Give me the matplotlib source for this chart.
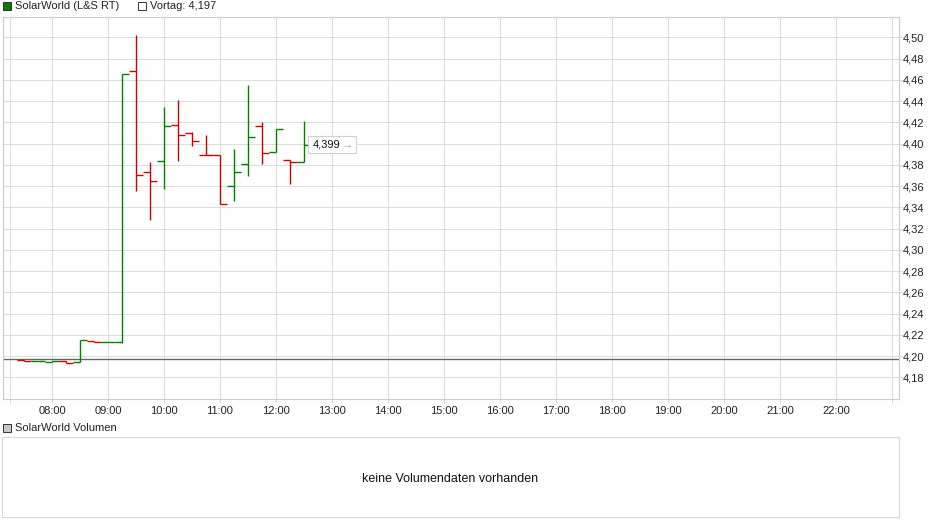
import matplotlib
matplotlib.use('Agg')
import matplotlib.pyplot as plt
from matplotlib.patches import Rectangle
from matplotlib.transforms import IdentityTransform

plt.rcParams['font.family'] = ['Liberation Sans', 'DejaVu Sans']

# 15-minute bars, SolarWorld (L&S RT)
times = ["07:30", "07:45", "08:00", "08:15", "08:30", "08:45", "09:00",
         "09:15", "09:30", "09:45", "10:00", "10:15", "10:30", "10:45",
         "11:00", "11:15", "11:30", "11:45", "12:00", "12:15", "12:30"]
opens = [4.196, 4.195, 4.1945, 4.1955, 4.1946, 4.2143, 4.2133,
         4.2135, 4.468, 4.3734, 4.3835, 4.4173, 4.4098, 4.3893,
         4.3889, 4.360, 4.3806, 4.4164, 4.3919, 4.3844, 4.3825]
highs = [4.196, 4.195, 4.1955, 4.1955, 4.2155, 4.2143, 4.2135,
         4.4652, 4.5022, 4.3831, 4.4345, 4.4408, 4.4107, 4.4082,
         4.3889, 4.395, 4.4551, 4.4204, 4.4138, 4.3844, 4.4213]
lows = [4.195, 4.195, 4.1945, 4.1935, 4.1940, 4.2133, 4.2133,
        4.2124, 4.3549, 4.3276, 4.3577, 4.384, 4.3981, 4.3889,
        4.343, 4.3455, 4.3699, 4.3803, 4.3919, 4.3624, 4.3825]
closes = [4.195, 4.195, 4.1955, 4.1935, 4.2155, 4.2133, 4.2135,
          4.4652, 4.3703, 4.365, 4.4164, 4.4079, 4.4023, 4.3889,
          4.343, 4.3731, 4.406, 4.391, 4.4138, 4.3825, 4.399]
prev_close = 4.197

hour_labels = ["08:00", "09:00", "10:00", "11:00", "12:00", "13:00", "14:00", "15:00",
               "16:00", "17:00", "18:00", "19:00", "20:00", "21:00", "22:00"]
price_ticks = [4.18, 4.20, 4.22, 4.24, 4.26, 4.28, 4.30, 4.32, 4.34,
               4.36, 4.38, 4.40, 4.42, 4.44, 4.46, 4.48, 4.50]


def to_h(s):
    h, m = s.split(":")
    return int(h) + int(m) / 60


def de(v, n):
    return f"{v:.{n}f}".replace(".", ",")


W, H = 940, 526
fig = plt.figure(figsize=(W / 100, H / 100), dpi=100)


def box(x0, y0, x1, y1):
    return [x0 / W, 1 - y1 / H, (x1 - x0) / W, (y1 - y0) / H]


grid_c = '#dddddd'
green = '#008000'
red = '#cc0000'

ax = fig.add_axes(box(3, 17, 899, 399))
ax.set_xlim(7.125, 23.125)
ax.set_ylim(4.1596, 4.5191)

hours = [to_h(s) for s in hour_labels]
ax.set_xticks([7.25] + hours + [23.0])
ax.set_xticklabels([""] + hour_labels + [""])
ax.set_yticks(price_ticks)
ax.set_yticklabels([de(p, 2) for p in price_ticks])
ax.yaxis.tick_right()
ax.grid(True, color=grid_c, lw=0.8)
ax.set_axisbelow(True)
ax.tick_params(axis='both', length=3, color=grid_c, labelsize=8, labelcolor='#222222')
ax.tick_params(axis='x', pad=2)
ax.tick_params(axis='y', pad=0)
for sp in ax.spines.values():
    sp.set_color('#cccccc')
    sp.set_linewidth(0.8)

ax.axhline(prev_close, color='#666666', lw=1.0, zorder=2)

half = 0.125
for t, o, hi, lo, c in zip(times, opens, highs, lows, closes):
    x = to_h(t)
    col = green if c >= o else red
    ax.vlines(x, lo, hi, color=col, lw=1.0, zorder=3)
    ax.hlines(o, x - half, x, color=col, lw=1.0, zorder=3)
    ax.hlines(c, x, x + half, color=col, lw=1.0, zorder=3)

# last price tag
last_x = to_h(times[-1])
px, py = ax.transData.transform((last_x, closes[-1]))
ax.add_artist(Rectangle((px + 3.5, py - 8.5), 48, 17, transform=IdentityTransform(),
                        fc='white', ec='#d0d0d0', lw=0.8, zorder=5))
ax.annotate(de(closes[-1], 3), xy=(last_x, closes[-1]), xytext=(9, 0),
            textcoords='offset pixels', ha='left', va='center', fontsize=8,
            color='#111111', zorder=6)
ax.annotate("\u2192", xy=(last_x, closes[-1]), xytext=(38, 0),
            textcoords='offset pixels', ha='left', va='center', fontsize=8,
            color='#aaaaaa', fontweight='bold', zorder=6)

# legend row
fig.add_artist(Rectangle((3 / W, 1 - 10 / H), 8 / W, 8 / H, transform=fig.transFigure,
                         fc=green, ec='#333333', lw=0.7))
fig.text(15 / W, 1 - 6 / H, "SolarWorld (L&S RT)", fontsize=8, va='center', color='#222222')
fig.add_artist(Rectangle((138 / W, 1 - 10 / H), 8 / W, 8 / H, transform=fig.transFigure,
                         fc='white', ec='#333333', lw=0.7))
fig.text(150 / W, 1 - 6 / H, "Vortag: " + de(prev_close, 3),
         fontsize=8, va='center', color='#222222')

# volume panel
fig.add_artist(Rectangle((3 / W, 1 - 432 / H), 8 / W, 8 / H, transform=fig.transFigure,
                         fc='#c8c8c8', ec='#333333', lw=0.7))
fig.text(15 / W, 1 - 428 / H, "SolarWorld Volumen", fontsize=8, va='center', color='#222222')

vax = fig.add_axes(box(2, 437, 899, 517))
vax.set_xticks([])
vax.set_yticks([])
for sp in vax.spines.values():
    sp.set_color('#d8d8d8')
    sp.set_linewidth(0.8)
vax.text(0.5, 0.48, "keine Volumendaten vorhanden", transform=vax.transAxes,
         ha='center', va='center', fontsize=9, color='#111111')

fig.savefig('out.png', dpi=100)
